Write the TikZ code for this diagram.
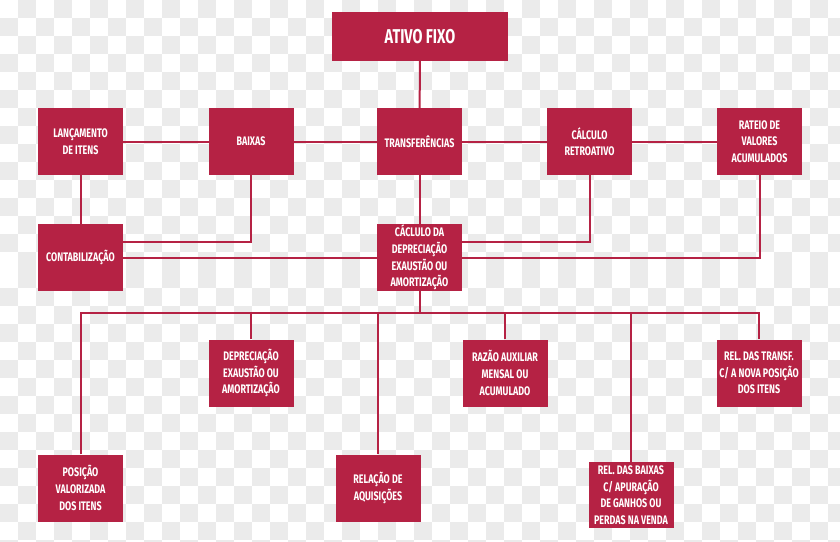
\documentclass[tikz,border=0pt]{standalone}
\usepackage{fontspec}
\usetikzlibrary{backgrounds}
\newfontfamily\boxfont[FakeStretch=0.72]{Fira Sans}
\definecolor{crimson}{HTML}{B52244}
\definecolor{chkgrey}{HTML}{EBEBEB}

\begin{document}
\begin{tikzpicture}[x=1pt,y=-1pt,
        box/.style={fill=crimson, text=white, align=center, inner sep=0pt,
          minimum width=85pt, minimum height=67pt,
          font=\boxfont\bfseries\fontsize{12.4}{16.6}\selectfont},
        link/.style={draw=crimson, line width=2pt}]
        \useasboundingbox (0,0) rectangle (840,541);

        % top
        \node[box, minimum width=176pt, minimum height=49pt,
          font=\boxfont\bfseries\fontsize{20}{22}\selectfont] (fixo) at (420,36.5) {ATIVO FIXO};

        % first row
        \node[box] (lanc) at (80.5,141.5) {LANÇAMENTO\\DE ITENS};
        \node[box] (baixas) at (251,141.5) {BAIXAS};
        \node[box] (transf) at (419.5,141.5) {TRANSFERÊNCIAS};
        \node[box] (retro) at (589.5,141.5) {CÁLCULO\\RETROATIVO};
        \node[box] (rateio) at (759.5,141.5) {RATEIO DE\\VALORES\\ACUMULADOS};

        % second row
        \node[box] (contab) at (80.5,257.5) {CONTABILIZAÇÃO};
        \node[box] (calc) at (419.5,257.5) {CÁCLULO DA\\DEPRECIAÇÃO\\EXAUSTÃO OU\\AMORTIZAÇÃO};

        % reports
        \node[box] (depr) at (251,373) {DEPRECIAÇÃO\\EXAUSTÃO OU\\AMORTIZAÇÃO};
        \node[box] (razao) at (505,373) {RAZÃO AUXILIAR\\MENSAL OU\\ACUMULADO};
        \node[box] (reltransf) at (759,373) {REL. DAS TRANSF.\\C/ A NOVA POSIÇÃO\\DOS ITENS};
        \node[box] (posicao) at (80.5,488) {POSIÇÃO\\VALORIZADA\\DOS ITENS};
        \node[box] (aquis) at (378,488) {RELAÇÃO DE\\AQUISIÇÕES};
        \node[box, minimum height=66pt] (relbaixas) at (631,495) {REL. DAS BAIXAS\\C/ APURAÇÃO\\DE GANHOS OU\\PERDAS NA VENDA};

        \coordinate (bus) at (419.5,312.7);

        \begin{scope}[on background layer]
        % checker background
        \begin{scope}
        \clip (0,0) rectangle (840,541);
        \foreach \i in {0,...,46}{
          \foreach \j in {0,...,30}{
            \pgfmathtruncatemacro{\odd}{mod(\i+\j+(\j>14),2)}
            \ifnum\odd=1 \fill[chkgrey] (\i*18,\j*18) rectangle ++(18,18); \fi
          }
        }
        \end{scope}

        \draw[link] (fixo) -- (transf);
        \draw[link] (lanc) -- (rateio);
        \draw[link] (lanc) -- (contab);
        \draw[link] (baixas.south) |- ([yshift=16pt]contab.east);
        \draw[link] (retro.south) |- ([yshift=16pt]calc.east);
        \draw[link] (contab.east) -| (rateio.south);
        \draw[link] (transf) -- (calc);
        \draw[link] (calc) -- (bus);
        \draw[link] (posicao.north) |- (bus) -| (reltransf.north);
        \draw[link] (depr.north) -- (depr.north |- bus);
        \draw[link] (razao.north) -- (razao.north |- bus);
        \draw[link] (aquis.north) -- (aquis.north |- bus);
        \draw[link] (relbaixas.north) -- (relbaixas.north |- bus);
        \end{scope}
\end{tikzpicture}
\end{document}
